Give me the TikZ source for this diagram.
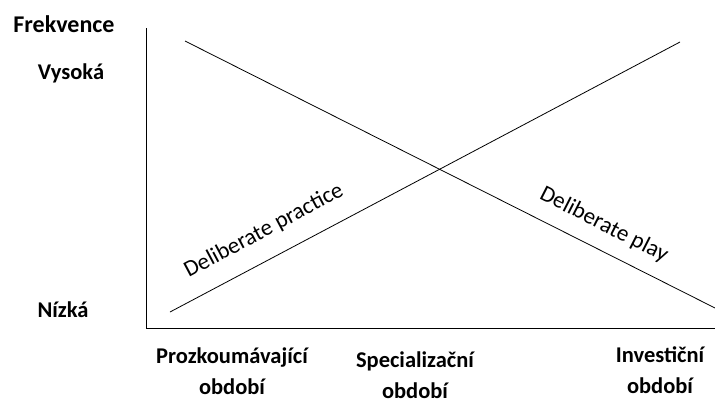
\documentclass[tikz,border=0pt]{standalone}
\usepackage{fontspec}
\setmainfont{Carlito}
\begin{document}
\begin{tikzpicture}[x=1pt,y=-1pt,
    axislabel/.style={font=\bfseries\fontsize{22.5}{31}\selectfont, inner sep=0pt, align=center},
    curvelabel/.style={font=\fontsize{23}{27}\selectfont, inner sep=0pt},
    axisline/.style={line width=1pt},
    trendline/.style={line width=0.8pt}]
    \useasboundingbox (0,0) rectangle (715,399);
    \coordinate (origin) at (146,328);
    \coordinate (ytop) at (146,28);
    \coordinate (xend) at (715,328);
    \coordinate (practiceA) at (170,312);
    \coordinate (practiceB) at (680,42);
    \coordinate (playA) at (185,41);
    \coordinate (playB) at (715,308);
    \draw[axisline] (ytop) -- (origin) -- (xend);
    \draw[trendline] (practiceA) -- (practiceB);
    \draw[trendline] (playA) -- (playB);
    \node[axislabel, font=\bfseries\fontsize{24}{28}\selectfont] (freq) at (64,24) {Frekvence};
    \node[axislabel] (high) at (71,73) {Vysoká};
    \node[axislabel] (low) at (63,310) {Nízká};
    \node[curvelabel, rotate=28] (practice) at (264,231) {Deliberate practice};
    \node[curvelabel, rotate=-27] (play) at (604,225) {Deliberate play};
    \node[axislabel] (explore) at (232,371) {Prozkoumávající\\období};
    \node[axislabel] (special) at (415,375) {Specializační\\období};
    \node[axislabel] (invest) at (660,370) {Investiční\\období};
\end{tikzpicture}
\end{document}
